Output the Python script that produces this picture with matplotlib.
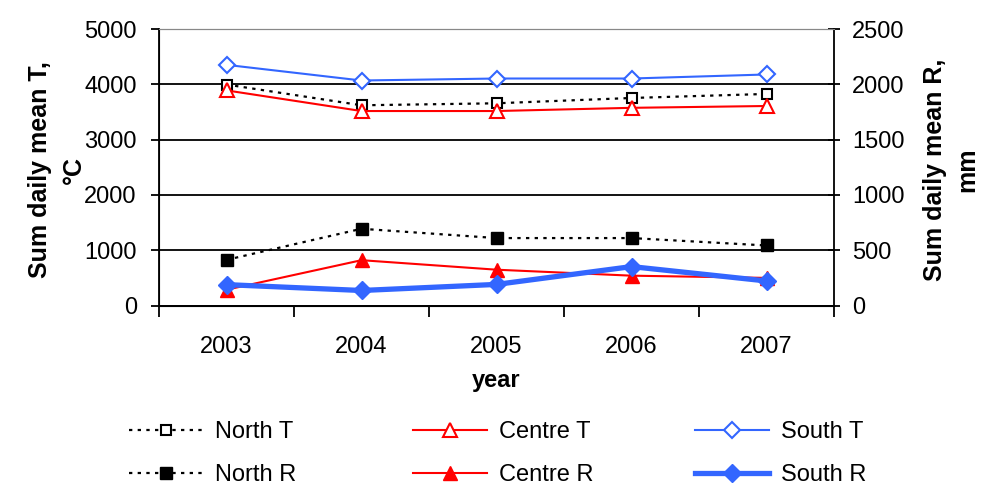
import matplotlib
matplotlib.use("Agg")
import matplotlib.pyplot as plt
from matplotlib.ticker import FixedLocator, MultipleLocator

plt.rcParams["font.family"] = ["Liberation Sans", "DejaVu Sans"]
plt.rcParams["font.size"] = 17

years = ["2003", "2004", "2005", "2006", "2007"]

# sums of daily mean temperature, deg C (left axis)
north_t = [3996, 3621, 3657, 3753, 3826]
centre_t = [3890, 3517, 3517, 3575, 3608]
south_t = [4352, 4069, 4105, 4105, 4178]

# sums of daily mean rainfall, mm (right axis)
north_r = [413, 694, 610, 610, 543]
centre_r = [143, 410, 324, 270, 250]
south_r = [189, 136, 191, 352, 222]

BLUE = "#3366ff"
RED = "#ff0000"
DOT = (0, (1.5, 2.4))

fig = plt.figure(figsize=(10, 4.96), dpi=100)
ax = fig.add_axes([0.159, 0.384, 0.675, 0.5575])
ax2 = ax.twinx()

x = list(range(len(years)))

nt, = ax.plot(x, north_t, color="black", ls=DOT, lw=1.6, marker="s", ms=7.5,
              mfc="white", mec="black", mew=1.5, label="North T")
ct, = ax.plot(x, centre_t, color=RED, lw=1.5, marker="^", ms=9.5,
              mfc="white", mec=RED, mew=1.5, label="Centre T")
st, = ax.plot(x, south_t, color=BLUE, lw=1.5, marker="D", ms=8,
              mfc="white", mec=BLUE, mew=1.5, label="South T")

nr, = ax2.plot(x, north_r, color="black", ls=DOT, lw=1.6, marker="s", ms=8,
               mfc="black", mec="black", label="North R")
cr, = ax2.plot(x, centre_r, color=RED, lw=1.5, marker="^", ms=10,
               mfc=RED, mec=RED, label="Centre R")
sr, = ax2.plot(x, south_r, color=BLUE, lw=3.8, marker="D", ms=9,
               mfc=BLUE, mec=BLUE, label="South R")

ax.set_xlim(-0.5, len(years) - 0.5)
ax.set_ylim(0, 5000)
ax2.set_ylim(0, 2500)
ax.yaxis.set_major_locator(MultipleLocator(1000))
ax2.yaxis.set_major_locator(MultipleLocator(500))

ax.set_xticks(x)
ax.set_xticklabels(years)
ax.xaxis.set_minor_locator(FixedLocator([i - 0.5 for i in range(len(years) + 1)]))
ax.tick_params(axis="x", which="major", length=0, pad=22)
ax.tick_params(axis="x", which="minor", length=8, width=1.3, direction="out")
ax.tick_params(axis="y", length=6, width=1.3, direction="out", pad=10)
ax2.tick_params(axis="y", length=8, width=1.3, direction="inout", pad=9)

ax.grid(axis="y", color="black", lw=1.3)
ax.set_axisbelow(True)
for sp in ["left", "bottom"]:
    ax.spines[sp].set_linewidth(1.3)
ax2.spines["right"].set_linewidth(1.3)
ax.spines["top"].set_color("#888888")
ax2.spines["top"].set_color("#888888")
ax.spines["right"].set_visible(False)

ax.set_xlabel("year", fontweight="bold", labelpad=8)

fig.text(0.057, 1 - 170 / 496, "Sum daily mean T,\n°C", rotation=90,
         ha="center", va="center", multialignment="center",
         fontweight="bold", fontsize=18, linespacing=1.5)
fig.text(0.951, 1 - 170 / 496, "Sum daily mean R,\nmm", rotation=90,
         ha="center", va="center", multialignment="center",
         fontweight="bold", fontsize=18, linespacing=1.45)

# legend in three fixed columns, as in the original
cols = [((nt, nr), 0.129), ((ct, cr), 0.413), ((st, sr), 0.695)]
for handles, xpos in cols:
    fig.legend(handles, [h.get_label() for h in handles], loc="upper left",
               bbox_to_anchor=(xpos, 1 - 421 / 496), frameon=False,
               borderpad=0, borderaxespad=0, handlelength=3.14,
               handletextpad=0.5, labelspacing=0.9, fontsize=17)

fig.savefig("out.png", dpi=100)
